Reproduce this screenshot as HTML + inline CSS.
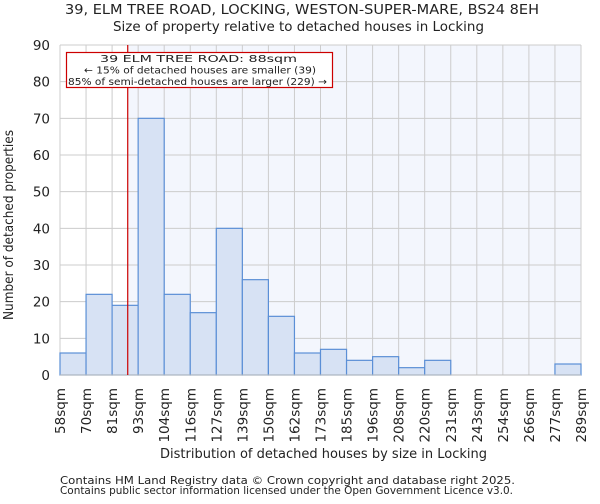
<!DOCTYPE html>
<html><head><meta charset="utf-8"><style>
body{margin:0;background:#fff;font-family:"DejaVu Sans","Liberation Sans",sans-serif;}
svg text{font-family:"DejaVu Sans","Liberation Sans",sans-serif;fill:#222;}
</style></head><body>
<svg id="chart" width="600" height="500" xmlns="http://www.w3.org/2000/svg">
<text x="65" y="14" font-size="13" textLength="474" lengthAdjust="spacingAndGlyphs">39, ELM TREE ROAD, LOCKING, WESTON-SUPER-MARE, BS24 8EH</text>
<text x="113" y="31" font-size="13" textLength="371" lengthAdjust="spacingAndGlyphs">Size of property relative to detached houses in Locking</text>
<g id="plot"></g>
<text x="160" y="458" font-size="13" textLength="327" lengthAdjust="spacingAndGlyphs">Distribution of detached houses by size in Locking</text>
<text transform="translate(13,320) rotate(-90)" font-size="13" textLength="190" lengthAdjust="spacingAndGlyphs">Number of detached properties</text>
<text x="60" y="484" font-size="10.5" textLength="455" lengthAdjust="spacingAndGlyphs">Contains HM Land Registry data © Crown copyright and database right 2025.</text>
<text x="60" y="494" font-size="10.5" textLength="453" lengthAdjust="spacingAndGlyphs">Contains public sector information licensed under the Open Government Licence v3.0.</text>
</svg>
<script>
const binLabels=["58sqm","70sqm","81sqm","93sqm","104sqm","116sqm","127sqm","139sqm","150sqm","162sqm","173sqm","185sqm","196sqm","208sqm","220sqm","231sqm","243sqm","254sqm","266sqm","277sqm","289sqm"];
const counts=[6,22,19,70,22,17,40,26,16,6,7,4,5,2,4,0,0,0,0,3];
const yTicks=[0,10,20,30,40,50,60,70,80,90];
const markerBin=2.6;
const L=60,R=581,T=45,B=375,YMAX=90;
const n=counts.length,bw=(R-L)/n;
const xs=i=>L+i*bw, ys=v=>B-(v/YMAX)*(B-T);
const NS="http://www.w3.org/2000/svg";
const g=document.getElementById('plot');
function mk(t,a,p){const e=document.createElementNS(NS,t);for(const k in a)e.setAttribute(k,a[k]);(p||g).appendChild(e);return e;}
const mx=xs(markerBin);
let bg=mk('rect',{x:mx,y:T,width:R-mx,height:B-T,fill:'#f3f6fd'});


for(let i=0;i<=n;i++){let l=mk('line',{x1:xs(i),x2:xs(i),y1:T,y2:B,stroke:'#ccc','stroke-width':1});

}
yTicks.forEach(v=>{let l=mk('line',{x1:L,x2:R,y1:ys(v),y2:ys(v),stroke:'#ccc','stroke-width':1});


let t=mk('text',{x:L-10,y:ys(v)+5,'font-size':13.5,'text-anchor':'end'});t.textContent=v;

});
counts.forEach((c,i)=>{let r=mk('rect',{x:xs(i),y:ys(c),width:bw,height:B-ys(c),fill:'#d7e2f4',stroke:'#5b8fd6','stroke-width':1.2});

});
binLabels.forEach((s,i)=>{let t=mk('text',{transform:`translate(${xs(i)+5},388) rotate(-90)`,'font-size':13.5,'text-anchor':'end'});t.textContent=s;

});
let ax=mk('line',{x1:L,x2:R,y1:B,y2:B,stroke:'#bbb','stroke-width':1});


let ml=mk('line',{x1:mx,x2:mx,y1:T,y2:B,stroke:'#c00','stroke-width':1.2});


let box=mk('rect',{x:66.5,y:52.5,width:266,height:35,fill:'#fff',stroke:'#c00','stroke-width':1.2});


const annLines=["39 ELM TREE ROAD: 88sqm","← 15% of detached houses are smaller (39)","85% of semi-detached houses are larger (229) →"];
const annX=[100,84,68],annW=[197,232,259];
annLines.forEach((s,i)=>{let t=mk('text',{x:annX[i],y:62+i*11.5,'font-size':10,textLength:annW[i],lengthAdjust:'spacingAndGlyphs'});t.textContent=s;

});
</script>
</body></html>
